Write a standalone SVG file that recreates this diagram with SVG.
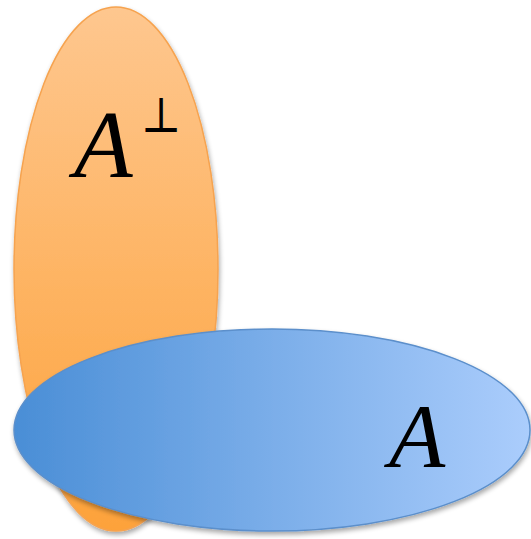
<svg xmlns="http://www.w3.org/2000/svg" width="531" height="539" viewBox="0 0 531 539">
<defs>
<linearGradient id="gO" x1="0" y1="0" x2="0" y2="1">
<stop offset="0" stop-color="#FEC78F"/>
<stop offset="1" stop-color="#FDA23A"/>
</linearGradient>
<linearGradient id="gB" x1="0" y1="0" x2="1" y2="0">
<stop offset="0" stop-color="#4A8ED6"/>
<stop offset="1" stop-color="#ABCDFC"/>
</linearGradient>
<filter id="sh" x="-10%" y="-10%" width="125%" height="125%">
<feGaussianBlur in="SourceAlpha" stdDeviation="2.5"/>
<feOffset dx="1" dy="3" result="b"/>
<feComponentTransfer><feFuncA type="linear" slope="0.35"/></feComponentTransfer>
<feMerge><feMergeNode/><feMergeNode in="SourceGraphic"/></feMerge>
</filter>
<style>
.t{font-family:"Liberation Serif","Times New Roman",serif;font-style:italic;fill:#000}
.p{font-family:"Liberation Serif","DejaVu Serif",serif;fill:#000}
</style>
</defs>
<g id="orange">
<ellipse cx="116" cy="269" rx="102" ry="262" fill="url(#gO)" stroke="#F6A34F" stroke-width="1.5" filter="url(#sh)"/>
<text class="t" x="74" y="177" font-size="96">A</text>
<text class="p" x="141" y="132" font-size="43" transform="translate(141 132) scale(1 1.15) translate(-141 -132)">⊥</text>
</g>
<g id="blue">
<ellipse cx="272" cy="430" rx="258" ry="101" fill="url(#gB)" stroke="#5B8FCB" stroke-width="1.5" filter="url(#sh)"/>
<text class="t" x="389" y="467" font-size="92">A</text>
</g>
<g id="connectors"/>
</svg>
